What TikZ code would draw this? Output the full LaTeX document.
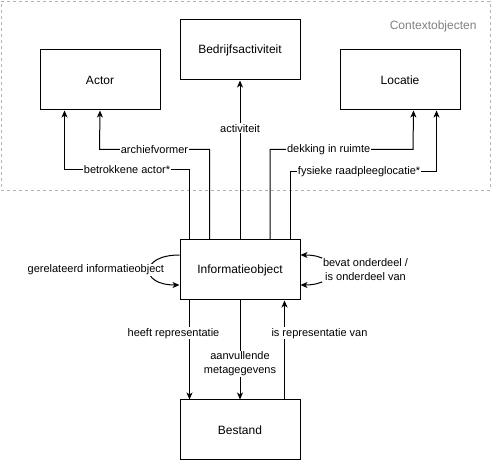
\documentclass[tikz,border=0pt]{standalone}
\usepackage{fontspec}
\setmainfont{Liberation Sans}
\usetikzlibrary{arrows.meta}

\begin{document}
\begin{tikzpicture}[x=1pt,y=1pt,line width=1pt,
    >={Stealth[length=7pt,width=6pt,inset=2pt]},
    box/.style={draw,minimum width=120pt,minimum height=60pt,
      font=\fontsize{12}{14}\selectfont},
    lbl/.style={fill=white,inner sep=1pt,align=center,
      font=\fontsize{11}{14}\selectfont},
    ctxbox/.style={draw=gray!60,dash pattern=on 3pt off 3pt,line width=0.8pt,
      minimum width=489pt,minimum height=189pt,inner sep=0pt}]
  \useasboundingbox (0,0) rectangle (492,462);

  % context group
  \node[ctxbox] (ctx) at (245.5,366.5) {};
  \node[anchor=east,text=gray,inner sep=0pt,font=\fontsize{12}{14}\selectfont]
    (ctxlabel) at (477,436) {Contextobjecten};

  \node[box] (bedr)    at (240,412) {Bedrijfsactiviteit};
  \node[box] (actor)   at (100,382) {Actor};
  \node[box] (locatie) at (400,382) {Locatie};
  \node[box] (info)    at (240,192) {Informatieobject};
  \node[box] (bestand) at (240,32)  {Bestand};

  % upwards to the context objects
  \draw[->] ([xshift=10pt]info.north west) -- ++(0,70)
    -- node[lbl]{betrokkene actor*} ++(-125,0) -- ([xshift=25pt]actor.south west);
  \draw[->] ([xshift=30pt]info.north west) -- ++(0,90)
    -- node[lbl]{archiefvormer} ++(-110,0) -- (actor.south);
  \draw[->] (info.north) -- node[lbl,pos=0.7]{activiteit} (bedr.south);
  \draw[->] ([xshift=30pt]info.north) -- ++(0,90)
    -- node[lbl,pos=0.41]{dekking in ruimte} ++(143,0) -- ([xshift=-47pt]locatie.south east);
  \draw[->] ([xshift=-10pt]info.north east) -- ++(0,68)
    -- node[lbl,pos=0.47]{fysieke raadpleeglocatie*} ++(146,0) -- ([xshift=-24pt]locatie.south east);

  % loops
  \draw[->] ([yshift=15pt]info.west) .. controls +(-40,0) and +(-40,0) .. ([yshift=-15pt]info.west)
    node[lbl,midway,anchor=east,xshift=16pt]{gerelateerd informatieobject};
  \draw[<->] ([yshift=15pt]info.east) .. controls +(40,0) and +(40,0) .. ([yshift=-15pt]info.east)
    node[lbl,midway,anchor=west,xshift=-9pt]{bevat onderdeel /\\is onderdeel van};

  % down to the file
  \draw[->] ([xshift=10pt]info.south west)
    -- node[lbl,pos=0.33,xshift=-16pt]{heeft representatie} ([xshift=10pt]bestand.north west);
  \draw[->] (info.south) -- node[lbl,pos=0.64]{aanvullende\\metagegevens} (bestand.north);
  \draw[->] ([xshift=-16pt]bestand.north east)
    -- node[lbl,pos=0.67,xshift=35pt]{is representatie van} ([xshift=-16pt]info.south east);
\end{tikzpicture}
\end{document}
